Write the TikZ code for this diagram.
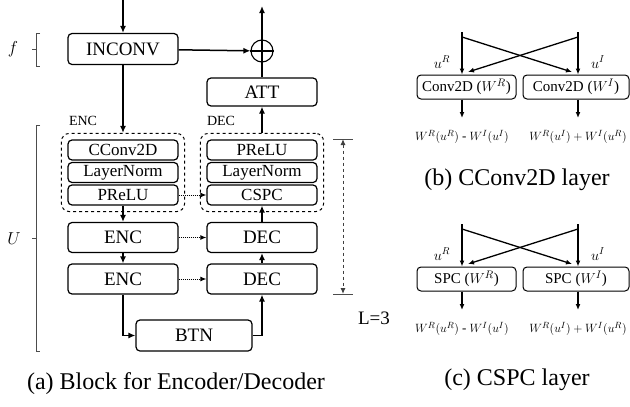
\documentclass[tikz,border=0pt]{standalone}
\usepackage{fontspec}
\setmainfont{Liberation Serif}
\usetikzlibrary{arrows.meta,positioning,fit}

\tikzset{
  blk/.style={draw, rounded corners=4pt, line width=1.2pt, minimum width=110pt,
    minimum height=30pt, inner sep=0pt, font=\fontsize{19}{19}\selectfont},
  sblk/.style={blk, minimum height=20pt, font=\fontsize{17}{17}\selectfont},
  grp/.style={draw, dashed, rounded corners=8pt, line width=1pt, inner sep=6pt},
  lyr/.style={draw, rounded corners=4pt, line width=1pt, minimum height=24pt,
    inner sep=0pt, font=\fontsize{15}{15}\selectfont},
  ar/.style={-{Latex[length=7pt,width=6pt]}, line width=1.5pt},
  dar/.style={-{Latex[length=6pt,width=5pt]}, densely dotted, line width=1pt},
  sar/.style={-{Latex[length=6pt,width=5pt]}, line width=1.3pt},
}

\begin{document}
\begin{tikzpicture}[x=1pt,y=-1pt,on grid]
            \useasboundingbox (0,0) rectangle (630,407);
            % encoder / decoder block
            \node[blk, minimum height=31pt] (inconv) at (123,49) {INCONV};
            \node[draw, circle, minimum size=22pt, line width=1.1pt] (sum) at (262,51) {};
            \node[blk, minimum height=28pt] (att) at (262,92) {ATT};
            \node[sblk] (cconv) at (123,150) {CConv2D};
            \node[sblk] (lnorm_e) [below=22.5pt of cconv] {LayerNorm};
            \node[sblk] (prelu_e) [below=22.5pt of lnorm_e] {PReLU};
            \node[blk] (enc_1) [below=42.5pt of prelu_e] {ENC};
            \node[blk] (enc_2) [below=41.5pt of enc_1] {ENC};
            \node[sblk] (prelu_d) [right=139pt of cconv] {PReLU};
            \node[sblk] (lnorm_d) [right=139pt of lnorm_e] {LayerNorm};
            \node[sblk] (cspc) [right=139pt of prelu_e] {CSPC};
            \node[blk] (dec_1) [right=139pt of enc_1] {DEC};
            \node[blk] (dec_2) [right=139pt of enc_2] {DEC};
            \node[blk, minimum width=116pt, minimum height=31pt] (btn) at (194,335.5) {BTN};
            \node[grp, fit=(cconv)(prelu_e)] (encgrp) {};
            \node[grp, fit=(prelu_d)(cspc)] (decgrp) {};
            \node[font=\fontsize{14}{14}\selectfont] (enc_lbl) at (83,121) {ENC};
            \node[font=\fontsize{14}{14}\selectfont] (dec_lbl) at (221,121) {DEC};
            \node[font=\fontsize{16}{16}\selectfont] (f_lbl) at (13,49) {$f$};
            \node[font=\fontsize{17}{17}\selectfont] (u_lbl) at (14,239) {$U$};
            \node[font=\fontsize{19}{19}\selectfont] (l_lbl) at (374,318) {L=3};
            \node[font=\fontsize{24}{24}\selectfont] (cap_a) at (176,384) {(a) Block for Encoder/Decoder};
            \coordinate (in) at (123,0);
            \coordinate (out) at (262,6);
            \draw[line width=1.1pt] (sum.north) -- (sum.south) (sum.west) -- (sum.east);
            \draw[ar] (in) -- (inconv);
            \draw[ar] (inconv) -- (sum);
            \draw[ar] (sum) -- (out);
            \draw[line width=1.5pt] (att) -- (sum);
            \draw[ar] (decgrp) -- (att);
            \draw[ar] (inconv) -- (encgrp);
            \draw[ar] (prelu_e) -- (enc_1);
            \draw[ar] (enc_1) -- (enc_2);
            \draw[ar] (enc_2.south) |- (btn.west);
            \draw[ar] (btn.east) -| (dec_2.south);
            \draw[ar] (dec_2) -- (dec_1);
            \draw[ar] (dec_1) -- (cspc);
            \draw[dar] (prelu_e) -- (cspc);
            \draw[dar] (enc_1) -- (dec_1);
            \draw[dar] (enc_2) -- (dec_2);
            % brackets and depth
            \draw[line width=0.6pt, black!70] (40,33) -- (36,33) -- (36,66) -- (40,66) (36,49.5) -- (32,49.5);
            \draw[line width=0.6pt, black!70] (40,125) -- (36,125) -- (36,351) -- (40,351) (36,238) -- (32,238);
            \coordinate (l_top) at (343,139);
            \coordinate (l_bot) at (343,294);
            \draw[line width=0.8pt, black!70] (333,139) -- (353,139) (333,294) -- (353,294);
            \draw[{Latex[length=6pt,width=5pt]}-{Latex[length=6pt,width=5pt]}, dashed, line width=1pt, black!75] (l_top) -- (l_bot);
            % complex layers
            \foreach \s/\dy/\lay/\cy/\ttl in {b/0/Conv2D/180/CConv2D, c/192/SPC/380/CSPC} {
                \node[lyr, minimum width=99pt] (lft_\s) at (466.5,87+\dy) {\lay\ ($W^R$)};
                \node[lyr, minimum width=106pt] (rgt_\s) at (576,87+\dy) {\lay\ ($W^I$)};
                \coordinate (lt_\s) at (462,32+\dy);
                \coordinate (rt_\s) at (578,32+\dy);
                \coordinate (lc_\s) at (462,37+\dy);
                \coordinate (rc_\s) at (578,37+\dy);
                \coordinate (le_\s) at (468,72+\dy);
                \coordinate (re_\s) at (572,72+\dy);
                \coordinate (lo_\s) at (462,118+\dy);
                \coordinate (ro_\s) at (578,118+\dy);
                \draw[sar] (lt_\s) -- (lt_\s |- lft_\s.north);
                \draw[sar] (rt_\s) -- (rt_\s |- rgt_\s.north);
                \draw[sar] (lc_\s) -- (re_\s);
                \draw[sar] (rc_\s) -- (le_\s);
                \draw[sar] (lft_\s.south -| lo_\s) -- (lo_\s);
                \draw[sar] (rgt_\s.south -| ro_\s) -- (ro_\s);
                \node[font=\fontsize{14}{14}\selectfont] (ur_\s) at (442,62+\dy) {$u^R$};
                \node[font=\fontsize{14}{14}\selectfont] (ui_\s) at (598,62+\dy) {$u^I$};
                \node[font=\fontsize{13}{13}\selectfont] (fl_\s) at (462,137+\dy) {$W^R(u^R)$ - $W^I(u^I)$};
                \node[font=\fontsize{13}{13}\selectfont] (fr_\s) at (578,137+\dy) {$W^R(u^I) + W^I(u^R)$};
                \node[font=\fontsize{24}{24}\selectfont] (cap_\s) at (517,\cy) {(\s) \ttl\ layer};
            }
        \end{tikzpicture}
\end{document}
